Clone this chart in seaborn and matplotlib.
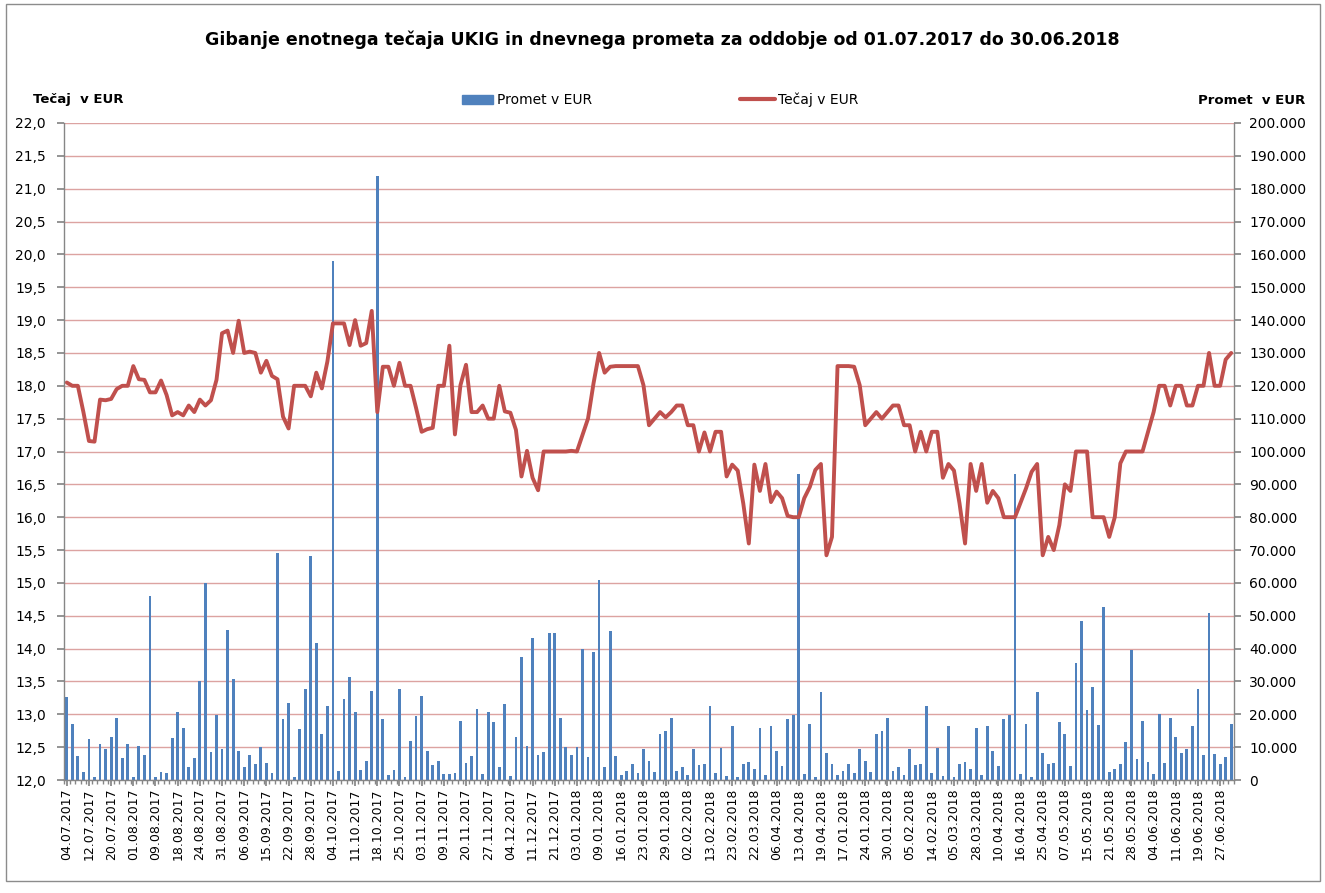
import numpy as np
import pandas as pd
import matplotlib
matplotlib.use("Agg")
import matplotlib.pyplot as plt
from matplotlib.patches import Patch, Rectangle
from matplotlib.lines import Line2D
from matplotlib.ticker import FuncFormatter, FixedLocator
import seaborn as sns

# ---------------- data ----------------
tecaj = [
    18.05, 18.0, 18.0, 17.6, 17.16, 17.15, 17.79, 17.78, 17.8, 17.95,
    18.0, 18.0, 18.3, 18.1, 18.09, 17.9, 17.9, 18.08, 17.86, 17.55,
    17.6, 17.55, 17.7, 17.6, 17.79, 17.7, 17.78, 18.09, 18.8, 18.84,
    18.5, 18.99, 18.5, 18.52, 18.5, 18.2, 18.38, 18.15, 18.1, 17.53,
    17.35, 18.0, 18.0, 18.0, 17.84, 18.2, 17.96, 18.37, 18.95, 18.95,
    18.95, 18.62, 19.0, 18.61, 18.65, 19.14, 17.6, 18.29, 18.29, 18.0,
    18.35, 18.0, 18.0, 17.66, 17.3, 17.34, 17.36, 18.0, 18.0, 18.61,
    17.26, 18.01, 18.32, 17.6, 17.6, 17.7, 17.5, 17.5, 18.0, 17.61,
    17.59, 17.33, 16.62, 17.01, 16.6, 16.41, 17.0, 17.0, 17.0, 17.0,
    17.0, 17.01, 17.0, 17.25, 17.5, 18.04, 18.5, 18.2, 18.29, 18.3,
    18.3, 18.3, 18.3, 18.3, 18.01, 17.4, 17.5, 17.6, 17.52, 17.6,
    17.7, 17.7, 17.4, 17.4, 17.0, 17.29, 17.0, 17.3, 17.3, 16.62,
    16.8, 16.71, 16.21, 15.6, 16.8, 16.4, 16.81, 16.23, 16.39, 16.29,
    16.02, 16.0, 16.0, 16.29, 16.46, 16.72, 16.81, 15.42, 15.7, 18.3,
    18.3, 18.3, 18.29, 18.01, 17.4, 17.5, 17.6, 17.5, 17.6, 17.7,
    17.7, 17.4, 17.4, 17.0, 17.3, 17.0, 17.3, 17.3, 16.6, 16.81,
    16.71, 16.21, 15.6, 16.81, 16.4, 16.81, 16.22, 16.4, 16.29, 16.0,
    16.0, 16.0, 16.22, 16.44, 16.69, 16.81, 15.42, 15.7, 15.5, 15.88,
    16.5, 16.4, 17.0, 17.0, 17.0, 16.0, 16.0, 16.0, 15.7, 16.0,
    16.82, 17.0, 17.0, 17.0, 17.0, 17.3, 17.6, 18.0, 18.0, 17.7,
    18.0, 18.0, 17.7, 17.7, 18.0, 18.0, 18.5, 18.0, 18.0, 18.4,
    18.5,
]

promet_tisoc = [
    25.2, 17.0, 7.3, 2.4, 12.4, 1.0, 10.9, 9.3, 13.0, 19.0,
    6.6, 10.9, 1.0, 10.5, 7.5, 56.0, 0.8, 2.4, 2.1, 12.7,
    20.8, 15.9, 3.9, 6.6, 30.0, 60.0, 8.5, 19.7, 9.3, 45.6,
    30.6, 8.8, 3.9, 7.5, 4.9, 10.1, 5.1, 2.1, 69.0, 18.5,
    23.5, 0.8, 15.4, 27.6, 68.3, 41.8, 14.0, 22.5, 158.0, 2.7,
    24.6, 31.3, 20.8, 3.0, 5.8, 27.2, 184.0, 18.5, 1.4, 3.0,
    27.6, 0.8, 12.0, 19.5, 25.6, 8.9, 4.5, 5.8, 1.8, 1.8,
    2.1, 18.0, 5.1, 7.3, 21.5, 1.8, 20.8, 17.8, 3.9, 23.1,
    1.2, 13.0, 37.3, 10.5, 43.1, 7.5, 8.5, 44.6, 44.6, 19.0,
    10.1, 7.5, 10.1, 39.9, 6.9, 38.9, 60.9, 3.9, 45.4, 7.3,
    1.5, 2.7, 4.8, 2.0, 9.3, 5.8, 2.4, 14.0, 15.0, 19.0,
    2.7, 3.9, 1.5, 9.3, 4.5, 4.9, 22.5, 2.0, 9.6, 1.2,
    16.4, 0.8, 4.9, 5.5, 3.5, 15.7, 1.4, 16.4, 8.9, 4.3,
    18.5, 19.8, 93.0, 1.8, 17.0, 0.8, 26.7, 8.3, 4.9, 1.4,
    2.7, 4.9, 2.1, 9.3, 5.8, 2.4, 14.0, 15.0, 19.0, 2.7,
    3.9, 1.5, 9.3, 4.5, 4.9, 22.5, 2.0, 9.6, 1.2, 16.4,
    0.8, 4.9, 5.5, 3.5, 15.7, 1.4, 16.4, 8.9, 4.3, 18.5,
    19.8, 93.0, 1.8, 17.0, 0.8, 26.7, 8.3, 4.9, 5.1, 17.8,
    14.0, 4.3, 35.7, 48.4, 21.3, 28.2, 16.7, 52.8, 2.4, 3.5,
    4.9, 11.7, 39.6, 6.3, 18.0, 5.5, 1.8, 20.1, 5.1, 18.8,
    13.0, 8.1, 9.3, 16.4, 27.7, 7.6, 50.7, 7.9, 4.9, 6.9,
    17.0,
]

x_labels = [
    "04.07.2017", "12.07.2017", "20.07.2017", "01.08.2017", "09.08.2017",
    "18.08.2017", "24.08.2017", "31.08.2017", "06.09.2017", "15.09.2017",
    "22.09.2017", "28.09.2017", "04.10.2017", "11.10.2017", "18.10.2017",
    "25.10.2017", "03.11.2017", "09.11.2017", "20.11.2017", "27.11.2017",
    "04.12.2017", "11.12.2017", "21.12.2017", "03.01.2018", "09.01.2018",
    "16.01.2018", "23.01.2018", "29.01.2018", "02.02.2018", "13.02.2018",
    "23.02.2018", "22.03.2018", "06.04.2018", "13.04.2018", "19.04.2018",
    "17.01.2018", "24.01.2018", "30.01.2018", "05.02.2018", "14.02.2018",
    "05.03.2018", "28.03.2018", "10.04.2018", "16.04.2018", "25.04.2018",
    "07.05.2018", "15.05.2018", "21.05.2018", "28.05.2018", "04.06.2018",
    "11.06.2018", "19.06.2018", "27.06.2018",
]

title = "Gibanje enotnega tečaja UKIG in dnevnega prometa za oddobje od 01.07.2017 do 30.06.2018"
label_left = "Tečaj  v EUR"
label_right = "Promet  v EUR"
legend_bar = "Promet v EUR"
legend_line = "Tečaj v EUR"

# ---------------- figure ----------------
W, H = 1325, 893
n = len(tecaj)
idx = np.arange(n)
df = pd.DataFrame({"idx": idx, "promet": np.array(promet_tisoc) * 1000.0, "tecaj": tecaj})

sns.set_theme(style="white")
plt.rcParams["font.family"] = ["DejaVu Sans"]
plt.rcParams["text.color"] = "black"
plt.rcParams["axes.labelcolor"] = "black"
plt.rcParams["xtick.color"] = "black"
plt.rcParams["ytick.color"] = "black"

BLUE = "#4F81BD"
RED = "#C0504D"
GRID = "#DCA3A1"
AXC = "#868686"

fig = plt.figure(figsize=(W / 100, H / 100), dpi=100)
fig.patch.set_facecolor("white")
ax = fig.add_axes([64 / W, 1 - 780 / H, 1170 / W, 657 / H])
ax2 = ax.twinx()

sns.barplot(data=df, x="idx", y="promet", ax=ax2, color=BLUE, width=0.5,
            saturation=1, errorbar=None, linewidth=0)
sns.lineplot(x=idx, y=np.array(tecaj), ax=ax, color=RED, linewidth=2.8,
             legend=False)

ax.set_zorder(2)
ax.patch.set_visible(False)
ax2.set_zorder(1)

ax.set_xlim(-0.5, n - 0.5)
ax.set_ylim(12, 22)
ax2.set_ylim(0, 200000)

ax.set_yticks(np.arange(12, 22.01, 0.5))
ax.yaxis.set_major_formatter(FuncFormatter(lambda v, p: f"{v:.1f}".replace(".", ",")))
ax2.set_yticks(np.arange(0, 200001, 10000))
ax2.yaxis.set_major_formatter(FuncFormatter(lambda v, p: f"{int(round(v)):,}".replace(",", ".")))

ax.grid(False)
ax2.grid(False)
ax2.yaxis.grid(True, color=GRID, linewidth=1.0)
ax2.set_axisbelow(True)

ax.xaxis.set_major_locator(FixedLocator(list(range(0, n, 4))))
ax.set_xticklabels(x_labels, rotation=90, fontsize=9, color="black")
ax.xaxis.set_minor_locator(FixedLocator([i + 0.5 for i in range(-1, n)]))

ax.set_xlabel("")
ax.set_ylabel("")
ax2.set_xlabel("")
ax2.set_ylabel("")

for s in ["top", "right"]:
    ax.spines[s].set_visible(False)
for s in ["top", "left", "bottom"]:
    ax2.spines[s].set_visible(False)
ax.spines["left"].set_color(AXC)
ax.spines["bottom"].set_color(AXC)
ax2.spines["right"].set_color(AXC)
for s in ["left", "bottom"]:
    ax.spines[s].set_linewidth(1.0)
ax2.spines["right"].set_linewidth(1.0)

ax.tick_params(axis="y", which="major", direction="out", length=5, color=AXC,
               labelcolor="black", labelsize=10, pad=8, left=True)
ax2.tick_params(axis="y", which="major", direction="out", length=5, color=AXC,
                labelcolor="black", labelsize=10, pad=6, right=True)
ax.tick_params(axis="x", which="major", direction="out", length=4, color=AXC,
               labelcolor="black", pad=2, bottom=True)
ax.tick_params(axis="x", which="minor", direction="out", length=3, color=AXC,
               bottom=True)

# titles
fig.text(662 / W, 1 - 40 / H, title, ha="center", va="center",
         fontsize=12.5, fontweight="bold", color="black")
fig.text(33 / W, 1 - 100 / H, label_left, ha="left", va="center",
         fontsize=9.5, fontweight="bold", color="black")
fig.text(1305 / W, 1 - 100 / H, label_right, ha="right", va="center",
         fontsize=9.5, fontweight="bold", color="black")

# legends
h_bar = Patch(facecolor=BLUE, edgecolor=BLUE)
h_line = Line2D([0], [0], color=RED, linewidth=3)
leg1 = fig.legend(handles=[h_bar], labels=[legend_bar], loc="center left",
                  bbox_to_anchor=(462 / W, 1 - 100 / H), frameon=False, fontsize=10,
                  borderpad=0, borderaxespad=0, handlelength=2.2, handleheight=0.6,
                  handletextpad=0.3, labelcolor="black")
leg2 = fig.legend(handles=[h_line], labels=[legend_line], loc="center left",
                  bbox_to_anchor=(740 / W, 1 - 100 / H), frameon=False, fontsize=10,
                  borderpad=0, borderaxespad=0, handlelength=2.5, handletextpad=0.2,
                  labelcolor="black")

# outer border
fig.add_artist(Rectangle((6 / W, 1 - 881 / H), 1314 / W, 877 / H,
                         transform=fig.transFigure, fill=False,
                         edgecolor="#8C8C8C", linewidth=1))

fig.savefig("out.png", dpi=100)
